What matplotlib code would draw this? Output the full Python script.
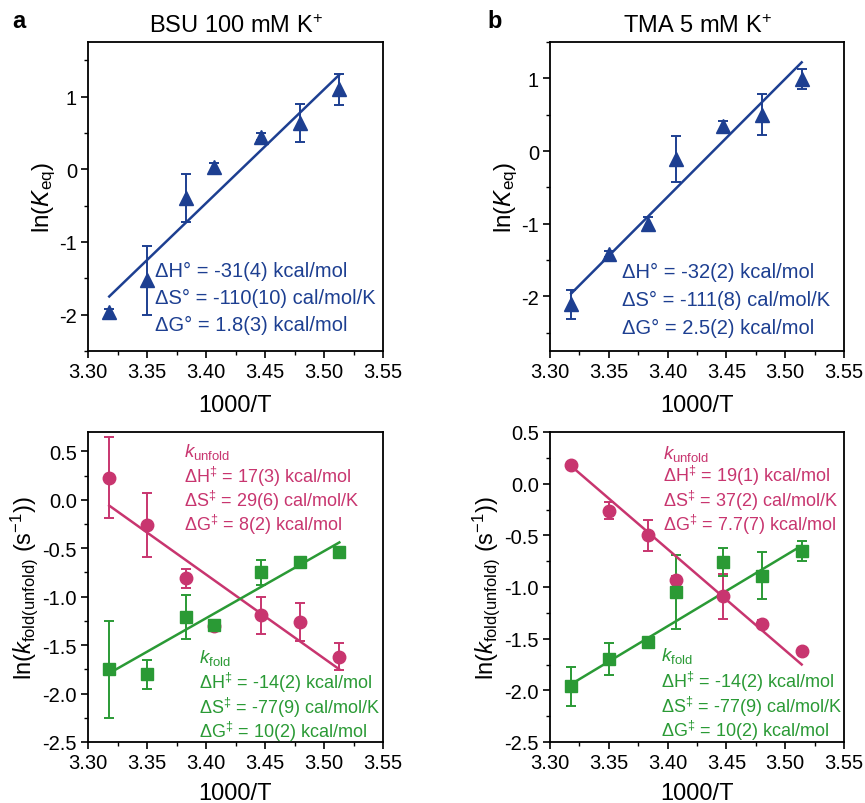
import numpy as np
import matplotlib
matplotlib.use("Agg")
import matplotlib.pyplot as plt
from matplotlib.ticker import MultipleLocator, FormatStrFormatter

plt.rcParams["font.family"] = ["Liberation Sans", "DejaVu Sans"]
plt.rcParams["mathtext.fontset"] = "custom"
plt.rcParams["mathtext.rm"] = "Liberation Sans"
plt.rcParams["mathtext.it"] = "Liberation Sans:italic"
plt.rcParams["mathtext.default"] = "regular"

BLUE = "#1d3f91"
MAGENTA = "#c8356f"
GREEN = "#2a9a35"

# 1000/T
inv_T_bsu = [3.318, 3.350, 3.383, 3.407, 3.447, 3.480, 3.513]
inv_T_tma = [3.318, 3.350, 3.383, 3.407, 3.447, 3.480, 3.514]

# ln(Keq)
lnK_bsu = [-1.97, -1.53, -0.39, 0.03, 0.45, 0.64, 1.10]
lnK_bsu_err = [0.05, 0.48, 0.33, 0.05, 0.05, 0.26, 0.21]
lnK_tma = [-2.11, -1.42, -1.00, -0.11, 0.35, 0.50, 0.99]
lnK_tma_err = [0.20, 0.04, 0.09, 0.32, 0.06, 0.28, 0.14]

# ln(k) kinetics
unf_bsu = [0.23, -0.26, -0.81, -1.30, -1.19, -1.26, -1.62]
unf_bsu_err = [0.42, 0.33, 0.10, 0.04, 0.19, 0.20, 0.14]
fold_bsu = [-1.75, -1.80, -1.21, -1.29, -0.75, -0.64, -0.54]
fold_bsu_err = [0.50, 0.15, 0.23, 0.04, 0.13, 0.04, 0.04]

unf_tma = [0.18, -0.26, -0.50, -0.93, -1.09, -1.36, -1.62]
unf_tma_err = [0.03, 0.08, 0.15, 0.04, 0.22, 0.04, 0.03]
fold_tma = [-1.96, -1.70, -1.53, -1.05, -0.76, -0.89, -0.65]
fold_tma_err = [0.19, 0.155, 0.04, 0.36, 0.135, 0.23, 0.10]

# fitted lines (end points)
fit_x_bsu = [3.318, 3.513]
fit_x_tma = [3.318, 3.514]
fit_K_bsu = [-1.75, 1.30]
fit_K_tma = [-1.96, 1.22]
fit_unf_bsu = [-0.06, -1.75]
fit_fold_bsu = [-1.79, -0.44]
fit_unf_tma = [0.17, -1.75]
fit_fold_tma = [-1.94, -0.60]

eq_bsu = ["ΔH° = -31(4) kcal/mol", "ΔS° = -110(10) cal/mol/K", "ΔG° = 1.8(3) kcal/mol"]
eq_tma = ["ΔH° = -32(2) kcal/mol", "ΔS° = -111(8) cal/mol/K", "ΔG° = 2.5(2) kcal/mol"]
unf_txt_bsu = ["ΔH$^{‡}$ = 17(3) kcal/mol", "ΔS$^{‡}$ = 29(6) cal/mol/K", "ΔG$^{‡}$ = 8(2) kcal/mol"]
fold_txt_bsu = ["ΔH$^{‡}$ = -14(2) kcal/mol", "ΔS$^{‡}$ = -77(9) cal/mol/K", "ΔG$^{‡}$ = 10(2) kcal/mol"]
unf_txt_tma = ["ΔH$^{‡}$ = 19(1) kcal/mol", "ΔS$^{‡}$ = 37(2) cal/mol/K", "ΔG$^{‡}$ = 7.7(7) kcal/mol"]
fold_txt_tma = ["ΔH$^{‡}$ = -14(2) kcal/mol", "ΔS$^{‡}$ = -77(9) cal/mol/K", "ΔG$^{‡}$ = 10(2) kcal/mol"]

fig = plt.figure(figsize=(8.65, 8.04), dpi=100)
W, H = 865, 804


def make_ax(x0, y0, x1, y1):
    return fig.add_axes([x0 / W, 1 - y1 / H, (x1 - x0) / W, (y1 - y0) / H])


def style(ax, ylim, ymaj, yfmt, xpad):
    ax.set_xlim(3.30, 3.55)
    ax.set_ylim(*ylim)
    ax.xaxis.set_major_locator(MultipleLocator(0.05))
    ax.xaxis.set_minor_locator(MultipleLocator(0.025))
    ax.xaxis.set_major_formatter(FormatStrFormatter("%.2f"))
    ax.yaxis.set_major_locator(MultipleLocator(ymaj))
    ax.yaxis.set_minor_locator(MultipleLocator(ymaj / 2))
    ax.yaxis.set_major_formatter(FormatStrFormatter(yfmt))
    ax.tick_params(which="major", direction="out", length=5, width=1.2,
                   labelsize=14.5, pad=3)
    ax.tick_params(which="minor", direction="out", length=3, width=1.0)
    for s in ax.spines.values():
        s.set_linewidth(1.3)
    ax.set_xlabel("1000/T", fontsize=17, labelpad=xpad)


def block(ax, x, y0, lines, color, dy, fs=13):
    for i, t in enumerate(lines):
        ax.text(x, y0 - i * dy, t, color=color, fontsize=fs, va="center", ha="left")


eb = dict(capsize=3.5, elinewidth=1.4, capthick=1.4, linestyle="none")

# a top
ax1 = make_ax(88, 43, 383, 352)
ax1.errorbar(inv_T_bsu, lnK_bsu, yerr=lnK_bsu_err, marker="^", ms=10,
             color=BLUE, **eb)
ax1.plot(fit_x_bsu, fit_K_bsu, color=BLUE, lw=1.8)
style(ax1, (-2.5, 1.75), 1, "%d", 9)
ax1.set_ylabel("ln($\\mathit{K}_{eq}$)", fontsize=17.5, labelpad=1)
block(ax1, 3.357, -1.39, eq_bsu, BLUE, 0.375, fs=14.5)
ax1.set_title("BSU 100 mM K$^{+}$", fontsize=17, pad=7)

# b top
ax2 = make_ax(550, 43, 844, 352)
ax2.errorbar(inv_T_tma, lnK_tma, yerr=lnK_tma_err, marker="^", ms=10,
             color=BLUE, **eb)
ax2.plot(fit_x_tma, fit_K_tma, color=BLUE, lw=1.8)
style(ax2, (-2.75, 1.5), 1, "%d", 9)
ax2.set_ylabel("ln($\\mathit{K}_{eq}$)", fontsize=17.5, labelpad=1)
block(ax2, 3.361, -1.66, eq_tma, BLUE, 0.385, fs=14.5)
ax2.set_title("TMA 5 mM K$^{+}$", fontsize=17, pad=7)

klabel = "ln($\\mathit{k}_{fold(unfold)}$ (s$^{-1}$))"

# a bottom
ax3 = make_ax(88, 433, 383, 743)
ax3.errorbar(inv_T_bsu, unf_bsu, yerr=unf_bsu_err, marker="o", ms=9,
             color=MAGENTA, **eb)
ax3.errorbar(inv_T_bsu, fold_bsu, yerr=fold_bsu_err, marker="s", ms=8,
             color=GREEN, **eb)
ax3.plot(fit_x_bsu, fit_unf_bsu, color=MAGENTA, lw=1.8)
ax3.plot(fit_x_bsu, fit_fold_bsu, color=GREEN, lw=1.8)
style(ax3, (-2.5, 0.7), 0.5, "%.1f", 7)
ax3.set_ylabel(klabel, fontsize=17, labelpad=2)
ax3.text(3.381, 0.50, "$\\mathit{k}_{unfold}$", color=MAGENTA, fontsize=13.5, va="center")
block(ax3, 3.381, 0.25, unf_txt_bsu, MAGENTA, 0.25)
ax3.text(3.394, -1.62, "$\\mathit{k}_{fold}$", color=GREEN, fontsize=13.5, va="center")
block(ax3, 3.394, -1.88, fold_txt_bsu, GREEN, 0.255)

# b bottom
ax4 = make_ax(550, 433, 844, 743)
ax4.errorbar(inv_T_tma, unf_tma, yerr=unf_tma_err, marker="o", ms=9,
             color=MAGENTA, **eb)
ax4.errorbar(inv_T_tma, fold_tma, yerr=fold_tma_err, marker="s", ms=8,
             color=GREEN, **eb)
ax4.plot(fit_x_tma, fit_unf_tma, color=MAGENTA, lw=1.8)
ax4.plot(fit_x_tma, fit_fold_tma, color=GREEN, lw=1.8)
style(ax4, (-2.5, 0.5), 0.5, "%.1f", 7)
ax4.set_ylabel(klabel, fontsize=17, labelpad=2)
ax4.text(3.396, 0.30, "$\\mathit{k}_{unfold}$", color=MAGENTA, fontsize=13.5, va="center")
block(ax4, 3.396, 0.08, unf_txt_tma, MAGENTA, 0.235)
ax4.text(3.394, -1.66, "$\\mathit{k}_{fold}$", color=GREEN, fontsize=13.5, va="center")
block(ax4, 3.394, -1.91, fold_txt_tma, GREEN, 0.237)

fig.text(12 / W, 1 - 22 / H, "a", fontsize=17, fontweight="bold", va="center")
fig.text(487 / W, 1 - 22 / H, "b", fontsize=17, fontweight="bold", va="center")

fig.savefig("out.png", dpi=100)
